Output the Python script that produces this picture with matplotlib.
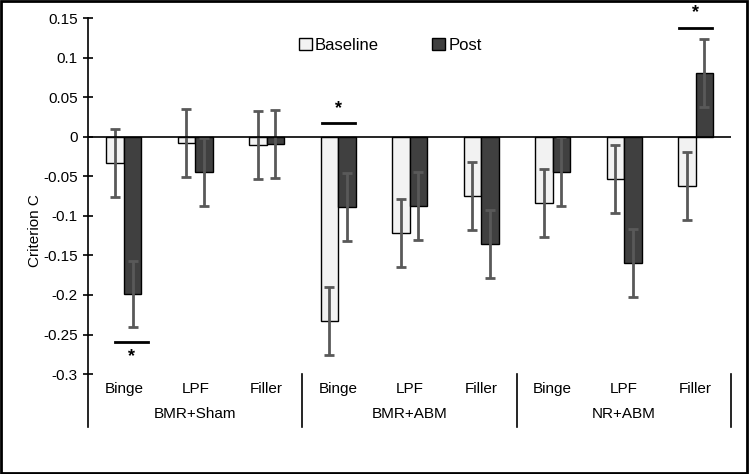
import matplotlib
matplotlib.use("Agg")
import matplotlib.pyplot as plt
import numpy as np
from matplotlib.patches import Patch, Rectangle

plt.rcParams['font.family'] = ['Liberation Sans', 'DejaVu Sans']

groups = ["BMR+Sham", "BMR+ABM", "NR+ABM"]
stimuli = ["Binge", "LPF", "Filler"]
baseline = [-0.033, -0.008, -0.011, -0.233, -0.122, -0.075, -0.084, -0.053, -0.062]
post = [-0.199, -0.045, -0.009, -0.089, -0.088, -0.136, -0.044, -0.160, 0.080]
baseline_err = [0.043, 0.043, 0.043, 0.043, 0.043, 0.043, 0.043, 0.043, 0.043]
post_err = [0.042, 0.043, 0.043, 0.043, 0.043, 0.043, 0.043, 0.043, 0.043]
# category index, shift, height of the bar line, star above (1) or below (-1)
sig_marks = [(0, 0.11, -0.259, -1), (3, 0.0, 0.017, 1), (8, 0.0, 0.138, 1)]
yticks = [0.15, 0.1, 0.05, 0, -0.05, -0.1, -0.15, -0.2, -0.25, -0.3]
ytick_labels = ["0.15", "0.1", "0.05", "0", "-0.05", "-0.1", "-0.15", "-0.2", "-0.25", "-0.3"]

fig = plt.figure(figsize=(7.49, 4.74), dpi=100)
ax = fig.add_axes([0.1175, 0.099, 0.859, 0.863])

x = np.arange(len(baseline))
w = 0.245
err_kw = dict(ecolor="#595959", elinewidth=2, capsize=3.5, capthick=2)
ax.bar(x - w / 2, baseline, w, yerr=baseline_err, color="#f2f2f2",
       edgecolor="black", linewidth=1, error_kw=err_kw, zorder=2)
ax.bar(x + w / 2, post, w, yerr=post_err, color="#404040",
       edgecolor="black", linewidth=1, error_kw=err_kw, zorder=2)

ax.set_xlim(-0.5, len(x) - 0.5)
ax.set_ylim(-0.367, 0.15)
ax.axhline(0, color="black", linewidth=1.2, zorder=3)

# significance marks
for i, dx, yl, d in sig_marks:
    ax.plot([i + dx - 0.23, i + dx + 0.23], [yl, yl], color="black", linewidth=2, zorder=3)
    ax.text(i + dx, yl + d * 0.008, "*", ha="center", va="bottom" if d > 0 else "top",
            fontsize=13, fontweight="bold")

# category labels and group labels below the plot
for i in x:
    ax.text(i, -0.319, stimuli[i % 3], ha="center", va="center", fontsize=11)
for g, name in enumerate(groups):
    ax.text(g * 3 + 1, -0.35, name, ha="center", va="center", fontsize=11)
for b in [2.5, 5.5, 8.5]:
    ax.plot([b, b], [-0.3, -0.367], color="black", linewidth=1.2, clip_on=False)

ax.set_yticks(yticks)
ax.set_yticklabels(ytick_labels, fontsize=11)
ax.tick_params(axis="y", direction="inout", length=7, width=1.2, pad=4)
ax.tick_params(axis="x", bottom=False, labelbottom=False)
for s in ["top", "right", "bottom"]:
    ax.spines[s].set_visible(False)
ax.spines["left"].set_linewidth(1.2)
ax.set_ylabel("Criterion C", fontsize=11)
ax.yaxis.set_label_coords(-0.071, 0.48)

handles = [Patch(facecolor="#f2f2f2", edgecolor="black", label="Baseline"),
           Patch(facecolor="#404040", edgecolor="black", label="Post")]
ax.legend(handles=handles, loc="center", bbox_to_anchor=(0.47, 0.934), ncol=2,
          frameon=False, fontsize=12, handlelength=0.75, handleheight=0.75,
          handletextpad=0.2, columnspacing=3.2)

fig.patches.append(Rectangle((0.002, 0.003), 0.995, 0.994, transform=fig.transFigure,
                             fill=False, edgecolor="black", linewidth=2))

fig.savefig("out.png", dpi=100)
